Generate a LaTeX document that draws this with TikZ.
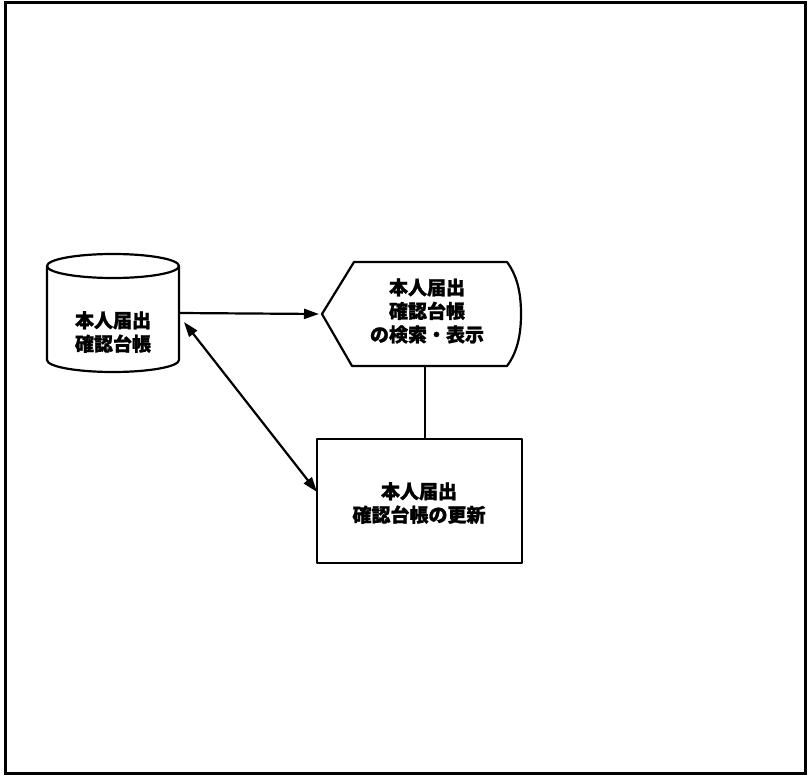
\documentclass[tikz,border=0pt]{standalone}
\usepackage{fontspec}
\newfontfamily\jp{Noto Sans CJK JP}[BoldFeatures={FakeBold=1.2}]
\usetikzlibrary{arrows.meta,calc}
\tikzset{
  shp/.style={draw=black, line width=2.2pt, line join=round},
  lbl/.style={font=\jp\bfseries\fontsize{19}{23.5}\selectfont, align=center, inner sep=0pt},
  arr/.style={line width=2.2pt, -{Triangle[length=15pt,width=10pt]}},
  darr/.style={line width=2.2pt, {Triangle[length=15pt,width=10pt]}-{Triangle[length=15pt,width=10pt]}},
}
\begin{document}
\begin{tikzpicture}[x=1pt,y=-1pt]
\useasboundingbox (0,0) rectangle (809,778);
% outer frame
\draw[line width=3pt] (5,3) rectangle (805,773);
% cylinder (database)
\node[minimum width=132pt, minimum height=118pt, inner sep=0pt] (db) at (113,313) {};
\draw[shp] (113,266) ellipse[x radius=66, y radius=12];
\draw[shp] (47,266) -- (47,360) arc[start angle=180, end angle=0, x radius=66, y radius=12] -- (179,266);
\node[lbl] (dbt) at (113,332) {本人届出\\確認台帳};
% display shape
\coordinate (dl) at (322,314);
\coordinate (dbot) at (425,366);
\draw[shp] (dl) -- (354,262) -- (507,262) .. controls (519,278) and (521,298) .. (521,314)
  .. controls (521,330) and (519,350) .. (507,366) -- (352,366) -- cycle;
\node[lbl] (disp) at (427,311) {本人届出\\確認台帳\\の検索・表示};
% process box
\node[shp, minimum width=205pt, minimum height=124pt, inner sep=0pt] (box) at (419.5,501) {};
\node[lbl] (boxt) at (419,503) {本人届出\\確認台帳の更新};
% connectors
\coordinate (a1) at (184,322);
\coordinate (a2) at (317,492);
\draw[arr] (db.east) -- ($(dl)+(-3,0)$);
\draw[darr] (a1) -- (a2);
\draw[line width=2.2pt] (dbot) -- (dbot |- box.north);
\end{tikzpicture}
\end{document}
